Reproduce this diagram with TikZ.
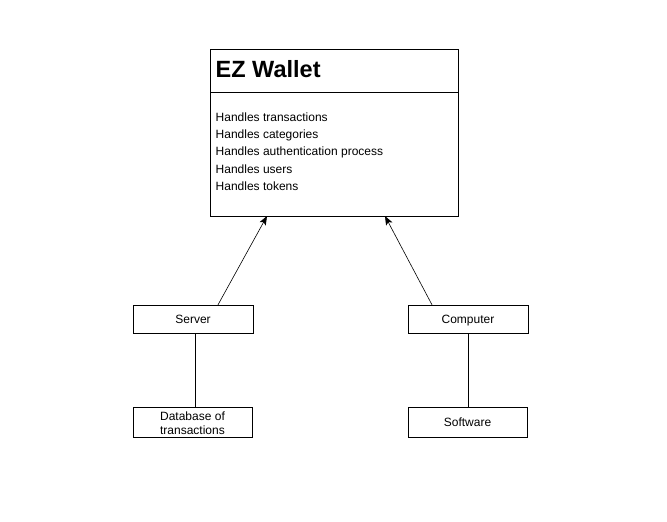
\documentclass[tikz,border=0pt]{standalone}
\usepackage{fontspec}
\setmainfont{Liberation Sans}
\usetikzlibrary{arrows.meta}
\tikzset{
	cell/.style={draw, rectangle, inner sep=0pt, minimum width=119pt, minimum height=30pt, font=\fontsize{12}{14}\selectfont, align=center},
	box/.style={cell, minimum width=120pt, minimum height=28pt, text height=8.7pt, text depth=0pt},
	item/.style={anchor=west, inner sep=0pt, text height=8.7pt, text depth=0pt, font=\fontsize{12}{14}\selectfont},
	link/.style={-{Stealth[length=9pt,width=7pt,inset=2pt]}, line width=0.6pt}
}
\begin{document}
\begin{tikzpicture}[x=1pt,y=-1pt]
			\useasboundingbox (0,0) rectangle (667,522);
			\node[draw, rectangle, inner sep=0pt, minimum width=248pt, minimum height=167pt] (ez) at (334,132.5){};
			\draw (210,92)--(458,92);
			\node[anchor=west, inner sep=0pt, font=\fontsize{23.5}{26}\selectfont\bfseries] (title) at (215.5,69){EZ Wallet};
			\foreach \t [count=\i] in {Handles transactions, Handles categories, Handles authentication process, Handles users, Handles tokens}
				\node[item] (h\i) at (215.5,117+17.3*\i-17.3){\t};
			\node[box] (server) at (193,319){Server};
			\node[box] (computer) at (468,319){Computer};
			\node[cell] (db) at (192.5,422){};
			\node[align=center, inner sep=0pt, font=\fontsize{12}{14}\selectfont] (dbtext) at (192.5,423){Database of\\transactions};
			\node[cell, text height=8.7pt, text depth=0pt] (soft) at (467.5,422){Software};
			\coordinate (ezl) at (267,216);
			\coordinate (ezr) at (385,216);
			\draw[link] ([xshift=25pt]server.north)--(ezl);
			\draw[link] ([xshift=-36pt]computer.north)--(ezr);
			\draw ([xshift=2pt]server.south)--([xshift=2.5pt]db.north);
			\draw (computer.south)--([xshift=0.5pt]soft.north);
		\end{tikzpicture}
\end{document}
